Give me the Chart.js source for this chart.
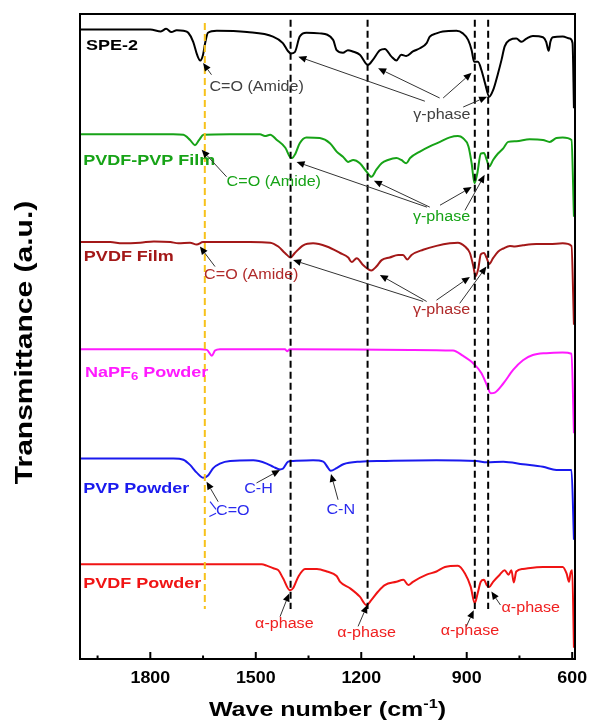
<!DOCTYPE html>
<html><head><meta charset="utf-8">
<script src="https://cdn.jsdelivr.net/npm/chart.js@4.4.1/dist/chart.umd.min.js"></script>
<style>html,body{margin:0;padding:0;background:#fff}#wrap{width:591px;height:724px;position:relative}</style>
</head><body><div id="wrap"><canvas id="c"></canvas></div>
<script>
// ---------- axis ----------
const xMin = 592, xMax = 2000;
const yMin = 0.15, yMax = 100;
const majorTicks = [1800, 1500, 1200, 900, 600];
const minorTicks = [1950, 1650, 1350, 1050, 750];
const xTitle = 'Wave number (cm';
const xTitleSup = '-1';
const yTitle = 'Transmittance (a.u.)';

// ---------- spectra (wavenumber, transmittance a.u.) ----------
const spe2Wn = [2000,1800,1770,1755,1740,1725,1706,1692,1678,1667,1658,1650,1644,1636,1611,1525,1451,1423,1409,1400,1389,1375,1356,1318,1280,1270,1252,1238,1224,1204,1181,1167,1147,1133,1114,1100,1086,1072,1053,1033,1014,1005,986,968,929,911,896,886,879,868,858,848,836,825,811,801,792,777,759,744,730,712,683,674,667,662,655,627,607,599,595];
const spe2T  = [97.6,97.6,97.3,97.7,97.2,97.5,97.4,97.1,95.7,93.7,92.8,93.7,95.5,97.1,97.4,97.2,96.5,95.5,94.3,93.9,94.1,96.5,97.1,97.0,96.0,94.4,94.0,94.4,94.2,93.7,92.1,92.9,94.4,94.6,93.4,92.8,93.7,93.5,94.2,94.7,95.5,96.5,97.0,97.3,97.4,97.0,96.0,94.4,92.6,92.6,91.3,89.3,87.2,88.2,90.8,92.9,95.0,96.0,96.2,95.7,96.2,96.6,96.4,95.7,94.3,95.7,96.4,96.5,96.2,95.5,85.4];

const pvpFilmWn = [2000,1735,1706,1687,1673,1661,1649,1574,1488,1474,1459,1440,1416,1402,1397,1388,1375,1356,1318,1289,1270,1252,1237,1223,1204,1185,1171,1157,1142,1124,1100,1086,1072,1061,1033,1005,976,948,925,911,895,886,878,870,860,851,843,836,825,811,796,782,759,721,683,664,645,627,602,595];
const pvpFilmT  = [81.4,81.4,81.3,80.5,79.7,80.5,81.3,81.4,81.4,81.1,81.3,80.5,79.3,77.8,77.7,78.3,80.0,80.9,80.8,80.0,78.7,77.9,77.1,77.4,76.9,75.6,74.8,75.9,76.9,77.4,77.7,77.4,76.9,77.7,78.7,79.5,80.2,80.9,81.1,80.8,79.5,76.9,73.8,75.3,78.4,78.5,77.4,76.4,77.4,78.4,79.2,80.2,80.3,80.6,80.5,80.2,80.8,80.9,80.5,68.6];

const pvdfFilmWn = [2000,1914,1880,1829,1790,1743,1720,1687,1668,1650,1574,1516,1459,1436,1417,1401,1389,1365,1337,1298,1260,1237,1227,1213,1194,1171,1157,1142,1119,1095,1081,1069,1057,1024,986,948,925,905,891,881,875,867,860,851,843,836,825,811,796,777,763,740,702,664,627,602,595];
const pvdfFilmT  = [64.7,64.7,64.5,64.6,64.8,64.7,64.5,64.6,64.3,64.7,64.7,64.7,64.6,64.0,63.0,62.3,63.0,64.2,64.5,64.0,63.0,62.3,61.6,62.2,61.1,60.3,60.9,61.9,62.3,62.7,62.7,62.0,62.7,63.5,64.1,64.5,64.6,64.0,63.0,60.9,59.4,60.6,62.8,63.0,62.2,61.3,62.2,63.2,63.7,64.1,64.0,64.2,64.4,64.4,64.5,64.1,51.9];

const napf6Wn = [2000,1658,1639,1625,1616,1602,1417,1411,1403,1061,939,911,881,858,843,832,820,796,768,740,712,674,627,602,595];
const napf6T  = [48.1,48.1,48.0,47.1,47.9,48.1,48.1,47.8,48.1,48.0,47.9,47.1,45.9,44.4,42.6,41.3,41.4,42.8,44.9,46.4,47.2,47.5,47.6,47.4,35.1];

const pvpPowWn = [2000,1734,1706,1687,1668,1649,1635,1621,1602,1573,1507,1469,1450,1431,1423,1408,1394,1337,1308,1294,1287,1270,1251,1204,1138,986,872,843,796,740,683,645,602,595];
const pvpPowT  = [31.2,31.2,31.0,30.2,29.0,28.2,28.6,29.7,30.4,30.8,30.9,30.4,29.9,29.5,29.6,30.7,30.8,30.9,30.7,29.7,29.3,29.7,30.3,30.7,30.8,30.9,30.8,30.6,30.7,30.3,29.9,29.4,29.4,18.6];

const pvdfPowWn = [2000,1483,1469,1450,1436,1422,1403,1394,1379,1360,1326,1298,1270,1260,1232,1204,1185,1171,1152,1133,1100,1080,1066,1053,1014,986,962,925,905,889,877,869,860,851,843,836,825,806,792,781,773,766,759,740,683,627,616,609,605,600,595];
const pvdfPowT  = [14.8,14.8,14.6,14.2,13.9,12.6,10.8,11.1,12.9,14.1,14.1,13.7,13.0,12.1,11.1,9.8,8.5,9.3,10.6,11.6,12.1,12.4,11.6,12.1,13.2,13.7,14.4,14.6,13.4,11.4,8.8,10.3,12.1,12.4,11.6,11.3,12.1,13.2,13.9,13.2,13.9,12.0,13.7,14.1,14.4,14.4,13.4,12.1,13.4,13.9,1.9];

// ---------- reference lines ----------
const markerWn     = [1645, 1401, 1182, 877, 839];
const markerTop    = [98.6, 99.1, 99.1, 99.1, 99.1];
const markerBottom = [7.9, 7.9, 7.9, 7.9, 7.9];

// ---------- series labels ----------
const seriesLabelWn = [1983, 1991, 1989, 1986, 1991, 1991];
const seriesLabelT  = [95.0, 77.2, 62.4, 44.5, 26.5, 11.8];

// ---------- annotations [text, wn, T] ----------
const noteText = ['C=O (Amide)','γ-phase','C=O (Amide)','γ-phase','C=O (Amide)','γ-phase','C-H','C=O','C-N','α-phase','α-phase','α-phase','α-phase'];
const noteWn   = [1632, 1052, 1583, 1053, 1647, 1053, 1533, 1613, 1299, 1502, 1268, 974, 801];
const noteT    = [88.75, 84.4, 74.0, 68.6, 59.5, 54.1, 26.4, 23.1, 23.2, 5.6, 4.1, 4.4, 8.0];
const noteGroup= [0,0,1,1,2,2,4,4,4,5,5,5,5];

// ---------- arrows [fromWn, fromT, toWn, toT] ----------
const arrowFromWn = [1626,1019,977,967,910, 1583,1013,1005,976,905, 1616,1024,1014,986,920, 1607,1498,1266, 1431,1209,901,804];
const arrowFromT  = [90.6,86.5,87.0,87.0,85.6, 74.8,70.1,70.1,70.4,69.6, 60.9,55.5,55.5,55.7,55.2, 24.5,27.4,24.8, 6.7,5.2,5.2,8.5];
const arrowToWn   = [1650,1379,1152,886,842, 1654,1384,1164,886,849, 1659,1394,1147,891,844, 1640,1431,1286, 1405,1183,880,830];
const arrowToT    = [92.4,93.4,91.6,90.9,87.2, 79.0,77.1,74.2,73.2,75.1, 64.0,61.9,59.6,59.3,60.9, 27.6,29.4,28.8, 10.3,8.5,7.7,10.6];

// small bracket strokes next to PVP C=O
const strokeFromWn = [1630, 1632];
const strokeFromT  = [24.5, 22.2];
const strokeToWn   = [1613, 1613];
const strokeToT    = [23.3, 22.7];

// ---------- styles ----------
const seriesColors = ['#000000','#17a317','#a31818','#ff1aff','#1a1aee','#f01414'];
const noteColors   = ['#404040','#17a317','#b02a2a','#ff1aff','#2a2aee','#f02020'];
const markerColors = ['#f7c21b','#000','#000','#000','#000'];
const FONT = '"Liberation Sans", Arial, Helvetica, sans-serif';

const spectra = [
  ['SPE-2', spe2Wn, spe2T],
  ['PVDF-PVP Film', pvpFilmWn, pvpFilmT],
  ['PVDF Film', pvdfFilmWn, pvdfFilmT],
  ['NaPF6 Powder', napf6Wn, napf6T],
  ['PVP Powder', pvpPowWn, pvpPowT],
  ['PVDF Powder', pvdfPowWn, pvdfPowT]
];

const datasets = [];
markerWn.forEach((w, i) => {
  datasets.push({
    label: 'marker' + i,
    data: [{x: w, y: markerTop[i]}, {x: w, y: markerBottom[i]}],
    borderColor: markerColors[i], borderWidth: 2, borderDash: [7, 4],
    pointRadius: 0, tension: 0
  });
});
spectra.forEach((s, i) => {
  datasets.push({
    label: s[0],
    data: s[1].map((w, k) => ({x: w, y: s[2][k]})),
    borderColor: seriesColors[i], borderWidth: 2,
    pointRadius: 0, cubicInterpolationMode: 'monotone'
  });
});

function txt(ctx, s, x, y, font, color, sx, align, baseline) {
  ctx.save();
  ctx.font = font; ctx.fillStyle = color;
  ctx.textAlign = align || 'left';
  ctx.textBaseline = baseline || 'middle';
  ctx.translate(x, y); ctx.scale(sx, 1);
  ctx.fillText(s, 0, 0);
  ctx.restore();
}

const overlay = {
  id: 'overlay',
  afterDatasetsDraw(chart) {
    const ctx = chart.ctx, a = chart.chartArea;
    const xs = chart.scales.x, ys = chart.scales.y;
    const px = w => xs.getPixelForValue(w), py = t => ys.getPixelForValue(t);

    // frame
    ctx.save();
    ctx.strokeStyle = '#000'; ctx.lineWidth = 2;
    ctx.strokeRect(a.left, a.top, a.right - a.left, a.bottom - a.top);
    // ticks
    ctx.lineWidth = 2;
    majorTicks.forEach(v => { const x = px(v); ctx.beginPath(); ctx.moveTo(x, a.bottom); ctx.lineTo(x, a.bottom - 7); ctx.stroke(); });
    minorTicks.forEach(v => { const x = px(v); ctx.beginPath(); ctx.moveTo(x, a.bottom); ctx.lineTo(x, a.bottom - 3.5); ctx.stroke(); });
    ctx.restore();
    majorTicks.forEach(v => txt(ctx, String(v), px(v), a.bottom + 19, 'bold 17px ' + FONT, '#000', 1.05, 'center', 'middle'));

    // x title with superscript
    const f1 = 'bold 20px ' + FONT, f2 = 'bold 13px ' + FONT, sxT = 1.25;
    ctx.save();
    ctx.font = f1; const w1 = ctx.measureText(xTitle).width * sxT, w3 = ctx.measureText(')').width * sxT;
    ctx.font = f2; const w2 = ctx.measureText(xTitleSup).width * sxT;
    ctx.restore();
    const cx = (a.left + a.right) / 2, base = 716;
    let x0 = cx - (w1 + w2 + w3) / 2;
    txt(ctx, xTitle, x0, base, f1, '#000', sxT, 'left', 'alphabetic');
    txt(ctx, xTitleSup, x0 + w1, base - 8, f2, '#000', sxT, 'left', 'alphabetic');
    txt(ctx, ')', x0 + w1 + w2, base, f1, '#000', sxT, 'left', 'alphabetic');

    // y title
    ctx.save();
    ctx.translate(31.5, (a.top + a.bottom) / 2 + 6);
    ctx.rotate(-Math.PI / 2);
    ctx.scale(1.25, 1);
    ctx.font = 'bold 24px ' + FONT; ctx.fillStyle = '#000';
    ctx.textAlign = 'center'; ctx.textBaseline = 'alphabetic';
    ctx.fillText(yTitle, 0, 0);
    ctx.restore();

    // series labels
    const lf = 'bold 15px ' + FONT, lsx = 1.2;
    spectra.forEach((s, i) => {
      const x = px(seriesLabelWn[i]), y = py(seriesLabelT[i]);
      if (s[0] === 'NaPF6 Powder') {
        ctx.save(); ctx.font = lf; const wa = ctx.measureText('NaPF').width * lsx;
        ctx.font = 'bold 11px ' + FONT; const wb = ctx.measureText('6').width * lsx; ctx.restore();
        txt(ctx, 'NaPF', x, y, lf, seriesColors[i], lsx);
        txt(ctx, '6', x + wa, y + 4, 'bold 11px ' + FONT, seriesColors[i], lsx);
        txt(ctx, ' Powder', x + wa + wb, y, lf, seriesColors[i], lsx);
      } else {
        txt(ctx, s[0], x, y, lf, seriesColors[i], lsx);
      }
    });

    // annotations
    noteText.forEach((s, i) => txt(ctx, s, px(noteWn[i]), py(noteT[i]), '14px ' + FONT, noteColors[noteGroup[i]], 1.15));

    // arrows
    ctx.save();
    arrowFromWn.forEach((w, i) => {
      const x1 = px(w), y1 = py(arrowFromT[i]), x2 = px(arrowToWn[i]), y2 = py(arrowToT[i]);
      const ang = Math.atan2(y2 - y1, x2 - x1), hl = 8, hw = 3.5;
      const bx = x2 - hl * Math.cos(ang), by = y2 - hl * Math.sin(ang);
      ctx.strokeStyle = '#333'; ctx.lineWidth = 1;
      ctx.beginPath(); ctx.moveTo(x1, y1); ctx.lineTo(bx, by); ctx.stroke();
      ctx.fillStyle = '#000';
      ctx.beginPath(); ctx.moveTo(x2, y2);
      ctx.lineTo(bx + hw * Math.sin(ang), by - hw * Math.cos(ang));
      ctx.lineTo(bx - hw * Math.sin(ang), by + hw * Math.cos(ang));
      ctx.closePath(); ctx.fill();
    });
    ctx.strokeStyle = '#2a2aee'; ctx.lineWidth = 1.2;
    strokeFromWn.forEach((w, i) => {
      ctx.beginPath(); ctx.moveTo(px(w), py(strokeFromT[i])); ctx.lineTo(px(strokeToWn[i]), py(strokeToT[i])); ctx.stroke();
    });
    ctx.restore();
  }
};

new Chart(document.getElementById('c'), {
  type: 'line',
  data: {datasets},
  options: {
    responsive: true, maintainAspectRatio: false, animation: false,
    layout: {padding: {left: 0, right: 16, top: 14, bottom: 0}},
    plugins: {legend: {display: false}, tooltip: {enabled: false}},
    scales: {
      x: {type: 'linear', reverse: true, min: xMin, max: xMax,
          ticks: {display: false}, grid: {display: false}, border: {display: false},
          afterFit(s) { s.height = 65; }},
      y: {type: 'linear', min: yMin, max: yMax,
          ticks: {display: false}, grid: {display: false}, border: {display: false},
          afterFit(s) { s.width = 80; }}
    }
  },
  plugins: [overlay]
});
</script>
</body></html>
